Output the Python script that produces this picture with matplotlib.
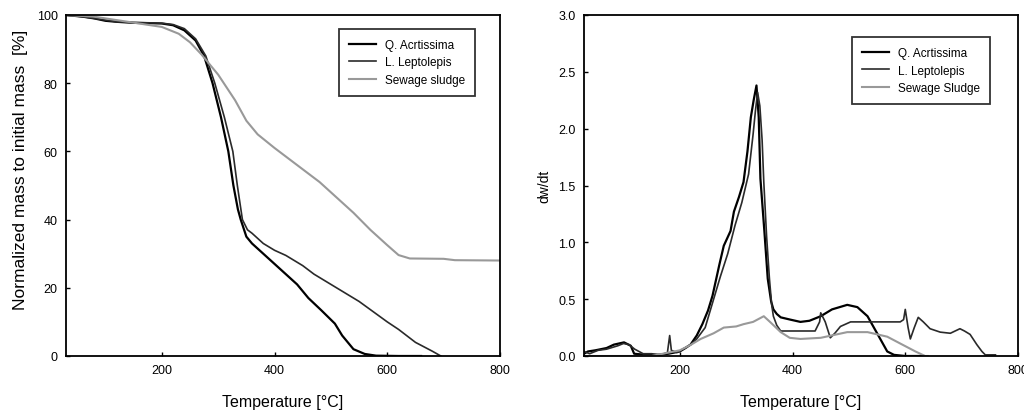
import matplotlib
matplotlib.use("Agg")
import matplotlib.pyplot as plt
from matplotlib import font_manager

names = {f.name for f in font_manager.fontManager.ttflist}
fam = [n for n in ["Liberation Sans Narrow", "Liberation Sans", "DejaVu Sans"] if n in names]
plt.rcParams['font.family'] = fam

# ---- TG data (left) ----
T_q_tg = [30, 60, 80, 100, 120, 150, 180, 200, 220, 240, 260, 275, 290, 305, 318, 327, 335, 340, 350, 360,
          380, 400, 420, 440, 460, 483, 507, 520, 540, 560, 580, 620, 660]
m_q_tg = [100, 99.5, 99, 98.3, 98, 97.7, 97.6, 97.5, 97, 95.5, 92.5, 88, 80, 70, 60, 50, 43, 40, 35, 33,
          30, 27, 24, 21, 17, 13.4, 9.5, 6, 2, 0.6, 0.1, 0, 0]

T_l_tg = [30, 60, 80, 100, 120, 150, 180, 200, 220, 240, 260, 278, 294, 311, 326, 334, 343, 352, 360, 380,
          400, 420, 450, 470, 500, 550, 600, 620, 650, 680, 695]
m_l_tg = [100, 99.5, 99, 98.5, 98, 97.8, 97.7, 97.6, 97.2, 96, 93, 88, 80, 70, 60, 50, 40, 37, 36, 33,
          31, 29.5, 26.5, 24, 21, 16, 10, 7.8, 4, 1.4, 0]

T_s_tg = [30, 80, 120, 160, 200, 230, 250, 270, 300, 330, 350, 370, 400, 440, 480, 500, 540, 570, 600,
          620, 640, 700, 720, 800]
m_s_tg = [100, 99.5, 98.5, 97.5, 96.5, 94.5, 92, 88.5, 82.5, 75, 69, 65, 61, 56, 51, 48, 42, 37, 32.5,
          29.6, 28.6, 28.5, 28.1, 28]

# ---- DTG data (right) ----
T_q_dtg = [30, 37, 50, 70, 83, 101, 113, 119, 140, 160, 180, 200, 210, 219, 230, 240, 250, 258, 270, 278,
           290, 296, 305, 313, 320, 326, 331, 336, 340, 343, 350, 356, 362, 366, 372, 379, 396, 414, 430, 450,
           470, 497, 515, 533, 550, 568, 580, 600, 632]
d_q_dtg = [0.02, 0.04, 0.05, 0.07, 0.1, 0.12, 0.09, 0.02, 0.01, 0.01, 0.02, 0.04, 0.07, 0.1, 0.18, 0.28, 0.4,
           0.53, 0.8, 0.97, 1.1, 1.27, 1.4, 1.53, 1.8, 2.1, 2.25, 2.38, 2.1, 1.56, 1.1, 0.68, 0.48, 0.41, 0.37,
           0.34, 0.32, 0.30, 0.31, 0.35, 0.41, 0.45, 0.43, 0.35, 0.2, 0.04, 0.01, 0.0, 0.0]

T_l_dtg = [30, 40, 55, 70, 90, 100, 110, 120, 135, 150, 165, 178, 182, 185, 195, 205, 219, 230, 245, 260,
           272, 285, 298, 310, 322, 330, 334, 338, 342, 346, 349, 354, 359, 363, 366, 372, 379, 390, 410, 440,
           448, 450, 458, 467, 475, 485, 503, 530, 560, 591, 597, 600, 605, 609, 616, 623, 632, 644, 662, 680,
           697, 705, 715, 727, 736, 742, 760]
d_l_dtg = [0.04, 0.02, 0.05, 0.06, 0.09, 0.11, 0.1, 0.06, 0.02, 0.02, 0.01, 0.03, 0.18, 0.05, 0.03, 0.06,
           0.1, 0.15, 0.25, 0.5, 0.7, 0.9, 1.15, 1.35, 1.6, 1.95, 2.15, 2.32, 2.2, 1.9, 1.53, 1.05, 0.68, 0.45,
           0.35, 0.27, 0.22, 0.22, 0.22, 0.22, 0.3, 0.38, 0.3, 0.16, 0.2, 0.26, 0.3, 0.3, 0.3, 0.3, 0.32, 0.41,
           0.25, 0.15, 0.25, 0.34, 0.3, 0.24, 0.21, 0.2, 0.24, 0.22, 0.19, 0.1, 0.04, 0.01, 0.01]

T_s_dtg = [30, 60, 100, 150, 200, 220, 237, 260, 278, 300, 313, 330, 349, 360, 379, 395, 414, 450, 497, 533,
           568, 591, 618, 635, 640]
d_s_dtg = [0.0, 0.0, 0.0, 0.0, 0.05, 0.1, 0.15, 0.2, 0.25, 0.26, 0.28, 0.3, 0.35, 0.3, 0.21, 0.16, 0.15, 0.16,
           0.21, 0.21, 0.17, 0.11, 0.04, 0.0, 0.0]

labels_l = ["Q. Acrtissima", "L. Leptolepis", "Sewage sludge"]
labels_r = ["Q. Acrtissima", "L. Leptolepis", "Sewage Sludge"]
colors = ["#000000", "#2a2a2a", "#999999"]
lws = [1.6, 1.2, 1.5]

fig = plt.figure(figsize=(10.24, 4.14), dpi=100)
fig.patch.set_facecolor("white")
ax1 = fig.add_axes([66 / 1024, 57 / 414, 434 / 1024, 341 / 414])
ax2 = fig.add_axes([584 / 1024, 57 / 414, 434 / 1024, 341 / 414])

ax1.plot(T_q_tg, m_q_tg, color=colors[0], lw=lws[0], label=labels_l[0])
ax1.plot(T_l_tg, m_l_tg, color=colors[1], lw=lws[1], label=labels_l[1])
ax1.plot(T_s_tg, m_s_tg, color=colors[2], lw=lws[2], label=labels_l[2])

ax2.plot(T_q_dtg, d_q_dtg, color=colors[0], lw=lws[0], label=labels_r[0])
ax2.plot(T_l_dtg, d_l_dtg, color=colors[1], lw=lws[1], label=labels_r[1])
ax2.plot(T_s_dtg, d_s_dtg, color=colors[2], lw=lws[2], label=labels_r[2])

ax1.set_xlim(30, 800)
ax1.set_ylim(0, 100)
ax1.set_xticks([200, 400, 600, 800])
ax1.set_yticks([0, 20, 40, 60, 80, 100])
ax2.set_xlim(30, 800)
ax2.set_ylim(0, 3.0)
ax2.set_xticks([200, 400, 600, 800])
ax2.set_yticks([0, 0.5, 1.0, 1.5, 2.0, 2.5, 3.0])
ax2.set_yticklabels(["0.0", "0.5", "1.0", "1.5", "2.0", "2.5", "3.0"])

for ax in (ax1, ax2):
    for s in ax.spines.values():
        s.set_linewidth(1.3)
    ax.tick_params(direction='in', length=3, width=1, labelsize=9, pad=6)
    ax.set_xlabel("Temperature [°C]", fontsize=11.5, labelpad=13)

ax1.set_ylabel("Normalized mass to initial mass  [%]", fontsize=12.5)
ax1.yaxis.set_label_coords(-0.088, 0.548)
ax2.set_ylabel("dw/dt", fontsize=10, labelpad=5)

leg_kw = dict(loc='upper right', borderaxespad=0, fontsize=8.5, frameon=True, fancybox=False,
              edgecolor='black', handlelength=2.3, labelspacing=0.45, borderpad=0.85, handletextpad=0.7)
leg1 = ax1.legend(bbox_to_anchor=(0.942, 0.959), **leg_kw)
leg1.get_frame().set_linewidth(1.3)
leg2 = ax2.legend(bbox_to_anchor=(0.935, 0.935), **leg_kw)
leg2.get_frame().set_linewidth(1.3)

fig.savefig("out.png", dpi=100, facecolor="white")
